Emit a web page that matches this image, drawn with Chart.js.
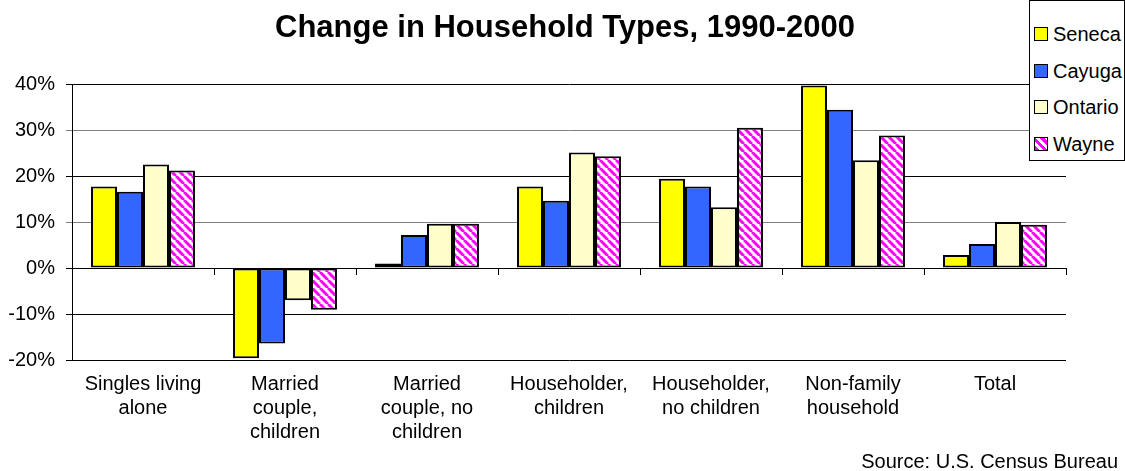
<!DOCTYPE html>
<html>
<head>
<meta charset="utf-8">
<title>Change in Household Types, 1990-2000</title>
<script src="https://cdn.jsdelivr.net/npm/chart.js@4.4.1/dist/chart.umd.min.js"></script>
<style>
  html, body { margin:0; padding:0; background:#fff; }
  #wrap { position:relative; width:1125px; height:471px; overflow:hidden; font-family:"Liberation Sans", Arial, sans-serif; }
  #legend { position:absolute; left:1029px; top:0; width:96px; height:161px; border:1px solid #000; box-sizing:border-box; background:#fff; }
  #legend .item { position:absolute; left:4px; height:24px; line-height:24px; font-size:20px; color:#000; white-space:nowrap; }
  #legend .sw { display:inline-block; width:12px; height:12px; border:1px solid #000; vertical-align:middle; margin-right:5px; position:relative; top:-2px; }
</style>
</head>
<body>
<div id="wrap">
  <canvas id="chart" width="1125" height="471"></canvas>
  <div id="legend"></div>
</div>
<script>
// ------------------------------------------------------
// data
// ------------------------------------------------------
const categories = [
  ['Singles living', 'alone'],
  ['Married', 'couple,', 'children'],
  ['Married', 'couple, no', 'children'],
  ['Householder,', 'children'],
  ['Householder,', 'no children'],
  ['Non-family', 'household'],
  ['Total']
];
const seriesNames = ['Seneca', 'Cayuga', 'Ontario', 'Wayne'];
const seneca  = [17.7, -19.6, 1.0, 17.7, 19.4, 39.7, 2.8];
const cayuga  = [16.6, -16.4, 7.2, 14.6, 17.7, 34.4, 5.2];
const ontario = [22.5, -7.0, 9.6, 25.1, 13.2, 23.4, 10.0];
const wayne   = [21.2, -9.1, 9.6, 24.3, 30.5, 28.8, 9.4];
const yMin = -20, yMax = 40, yStep = 10;

const titleText = 'Change in Household Types, 1990-2000';
const sourceText = 'Source: U.S. Census Bureau';
const FONT = '"Liberation Sans", Arial, sans-serif';

// ------------------------------------------------------
// Wayne hatch pattern (magenta diagonal on white)
// ------------------------------------------------------
function makeHatch(){
  const c = document.createElement('canvas');
  c.width = 8; c.height = 8;
  const g = c.getContext('2d');
  g.fillStyle = '#fff';
  g.fillRect(0, 0, 8, 8);
  g.strokeStyle = '#ff00ff';
  g.lineWidth = 3;
  g.beginPath();
  for (let k = -8; k <= 8; k += 8) {
    g.moveTo(k, 0);
    g.lineTo(k + 8, 8);
  }
  g.stroke();
  return g.createPattern(c, 'repeat');
}
const hatch = makeHatch();
const fills = ['#ffff00', '#3366ff', '#ffffcc', hatch];

// ------------------------------------------------------
// title, source and category ticks on the zero line
// ------------------------------------------------------
const extras = {
  id: 'extras',
  afterDraw(chart){
    const { ctx, scales: { x, y } } = chart;
    const y0 = Math.round(y.getPixelForValue(0));
    ctx.save();
    ctx.strokeStyle = '#000';
    ctx.lineWidth = 1;
    ctx.beginPath();
    for (let i = 1; i <= categories.length; i++) {
      const px = Math.round(x.getPixelForValue(i - 0.5)) + 0.5;
      ctx.moveTo(px, y0);
      ctx.lineTo(px, y0 + 7);
    }
    ctx.stroke();

    ctx.fillStyle = '#000';
    ctx.font = 'bold 31px ' + FONT;
    ctx.textAlign = 'center';
    ctx.textBaseline = 'alphabetic';
    ctx.fillText(titleText, 565, 37);

    ctx.font = '20px ' + FONT;
    ctx.textAlign = 'right';
    ctx.fillText(sourceText, 1118, 468);
    ctx.restore();
  }
};

const datasets = [seneca, cayuga, ontario, wayne].map((vals, i) => ({
  label: seriesNames[i],
  data: vals,
  backgroundColor: fills[i],
  borderColor: '#000',
  borderWidth: 2,
  borderSkipped: false,
  barPercentage: 1,
  categoryPercentage: 0.732
}));

new Chart(document.getElementById('chart').getContext('2d'), {
  type: 'bar',
  data: { labels: categories, datasets },
  options: {
    responsive: false,
    animation: false,
    devicePixelRatio: 1,
    layout: { padding: { top: 84, right: 59, left: 0, bottom: 0 } },
    plugins: {
      legend: { display: false },
      title: { display: false },
      tooltip: { enabled: false }
    },
    scales: {
      x: {
        grid: { display: false },
        border: { display: false },
        ticks: {
          color: '#000',
          padding: 4,
          maxRotation: 0,
          autoSkip: false,
          font: { family: FONT, size: 20, lineHeight: 1.2 }
        },
        afterFit(s){ s.height = 111; }
      },
      y: {
        min: yMin,
        max: yMax,
        ticks: {
          stepSize: yStep,
          color: '#000',
          padding: 11,
          font: { family: FONT, size: 20 },
          callback: v => v + '%'
        },
        grid: {
          color: c => (c.tick && (c.tick.value === 30 || c.tick.value === 10)) ? '#808080' : '#000',
          tickColor: c => (c.tick && (c.tick.value === 30 || c.tick.value === 10)) ? '#808080' : '#000',
          tickLength: 6,
          lineWidth: 1
        },
        border: { display: true, color: '#000', width: 1 },
        afterFit(s){ s.width = 72; }
      }
    }
  },
  plugins: [extras]
});

// ------------------------------------------------------
// legend (html)
// ------------------------------------------------------
const legendRows = [33, 70, 106, 143];
const legendSwatch = [
  'background:#ffff00',
  'background:#3366ff',
  'background:#ffffcc',
  'background:repeating-linear-gradient(45deg,#ff00ff 0 3px,#fff 3px 6px)'
];
const legendEl = document.getElementById('legend');
seriesNames.forEach((name, i) => {
  const row = document.createElement('div');
  row.className = 'item';
  row.style.top = (legendRows[i] - 12) + 'px';
  row.innerHTML = '<span class="sw" style="' + legendSwatch[i] + '"></span>' + name;
  legendEl.appendChild(row);
});
</script>
</body>
</html>
